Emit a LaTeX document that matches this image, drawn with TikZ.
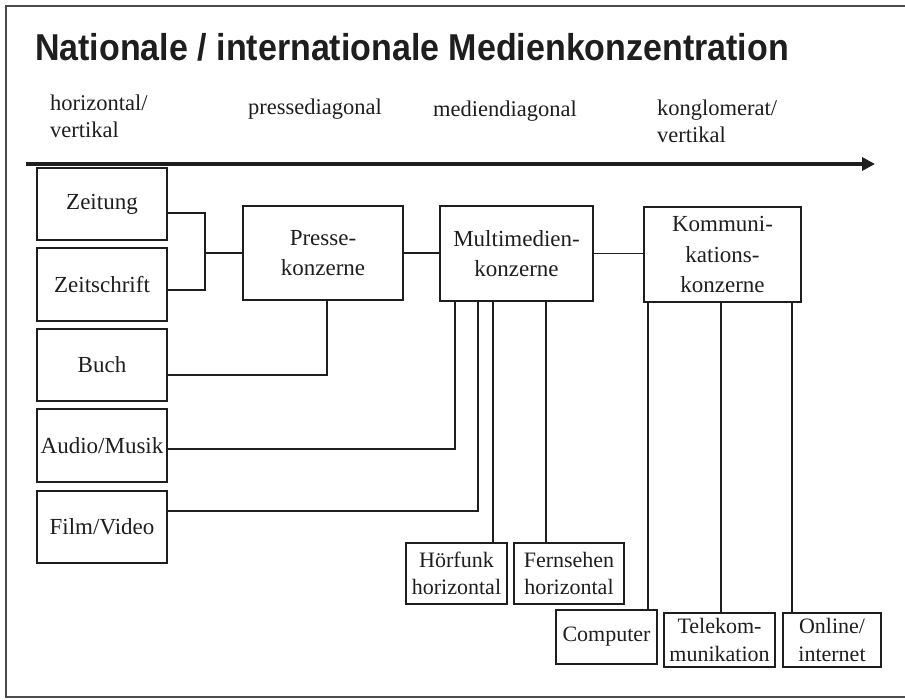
\documentclass[tikz,border=0pt]{standalone}
\usepackage{graphicx}
\usepackage{fontspec}
\setmainfont{Liberation Serif}
\newfontfamily\titlefont{Liberation Sans}
\usetikzlibrary{arrows.meta}
\definecolor{ink}{HTML}{1E1E1E}
\tikzset{
  box/.style={draw=ink, line width=1.3pt, inner sep=0pt, align=center, text=ink,
    font=\fontsize{23}{30.5}\selectfont},
  smallbox/.style={box, font=\fontsize{22}{27.5}\selectfont},
  conn/.style={draw=ink, line width=1.1pt},
  hdr/.style={anchor=base west, inner sep=0pt, align=left, text=ink,
    font=\fontsize{22.5}{27}\selectfont},
}
\begin{document}
\begin{tikzpicture}[x=1pt,y=-1pt]
\useasboundingbox (0,0) rectangle (905,699);
% frame
\draw[line width=1.5pt, ink!80] (905,6) -- (6,6) -- (6,697) -- (905,697);
% title
\node[anchor=base west, inner sep=0pt, text=ink, font=\titlefont\bfseries\fontsize{34}{40}\selectfont] (title) at (35,60) {\scalebox{1}[1.1]{Nationale / internationale Medienkonzentration}};
% header labels (base = baseline of last line)
\node[hdr] (h1) at (50,137) {horizontal/\\vertikal};
\node[hdr] (h2) at (248,114) {pressediagonal};
\node[hdr] (h3) at (433,116) {mediendiagonal};
\node[hdr] (h4) at (657,142) {konglomerat/\\vertikal};
% arrow
\coordinate (arrS) at (26,164);
\coordinate (arrE) at (875,164);
\draw[ink, line width=4pt, -{Triangle[length=13pt,width=13pt]}] (arrS) -- (arrE);
% left boxes
\node[box, minimum width=130pt, minimum height=72pt] (zeit)  at (102,204)   {Zeitung};
\node[box, minimum width=130pt, minimum height=73pt] (zschr) at (102,284.5) {Zeitschrift};
\node[box, minimum width=130pt, minimum height=72pt] (buch)  at (102,365)   {Buch};
\node[box, minimum width=130pt, minimum height=73pt] (audio) at (102,445.5) {Audio/Musik};
\node[box, minimum width=130pt, minimum height=72pt] (film)  at (102,527)   {Film/Video};
% main boxes
\node[box, minimum width=160pt, minimum height=94pt] (presse) at (323,253) {Presse-\\konzerne};
\node[box, minimum width=153pt, minimum height=95pt] (multi)  at (516.5,253.5) {Multimedien-\\konzerne};
\node[box, minimum width=157pt, minimum height=95pt] (komm)   at (722.5,254.5) {Kommuni-\\kations-\\konzerne};
% small boxes
\node[smallbox, minimum width=101pt, minimum height=61pt] (hoer) at (456.5,573.5) {Hörfunk\\horizontal};
\node[smallbox, minimum width=110pt, minimum height=61pt] (fern) at (569,573.5) {Fernsehen\\horizontal};
\node[smallbox, minimum width=101pt, minimum height=54pt] (comp) at (606.5,637) {Computer};
\node[smallbox, minimum width=111pt, minimum height=54pt] (tele) at (719.5,640) {Telekom-\\munikation};
\node[smallbox, minimum width=98pt, minimum height=54pt] (onl) at (832,640) {Online/\\internet};
% connectors left
\coordinate (j1) at (205,253);
\draw[conn] ([yshift=-9pt]zeit.east) -| (j1) |- ([yshift=-5.5pt]zschr.east);
\draw[conn] (j1) -- (presse.west);
\draw[conn] (presse.east) -- (multi.west |- presse.east);
\draw[conn] (multi.east) -- (komm.west |- multi.east);
\coordinate (p1) at ([xshift=4pt]presse.south);
\draw[conn] (p1) |- ([yshift=-10pt]buch.east);
% multimedien drops
\coordinate (m1) at ([xshift=-61.5pt]multi.south);
\coordinate (m2) at ([xshift=-38.5pt]multi.south);
\coordinate (m3) at ([xshift=-23.5pt]multi.south);
\coordinate (m4) at ([xshift=29.5pt]multi.south);
\draw[conn] (m1) |- ([yshift=-3.5pt]audio.east);
\draw[conn] (m2) |- ([yshift=16pt]film.east);
\draw[conn] (m3) -- (m3 |- hoer.north);
\draw[conn] (m4) -- (m4 |- fern.north);
% kommunikation drops
\coordinate (k1) at ([xshift=-74.5pt]komm.south);
\coordinate (k2) at ([xshift=-1.5pt]komm.south);
\coordinate (k3) at ([xshift=69.5pt]komm.south);
\draw[conn] (k1) -- (k1 |- comp.north);
\draw[conn] (k2) -- (k2 |- tele.north);
\draw[conn] (k3) -- (k3 |- onl.north);
\end{tikzpicture}
\end{document}
